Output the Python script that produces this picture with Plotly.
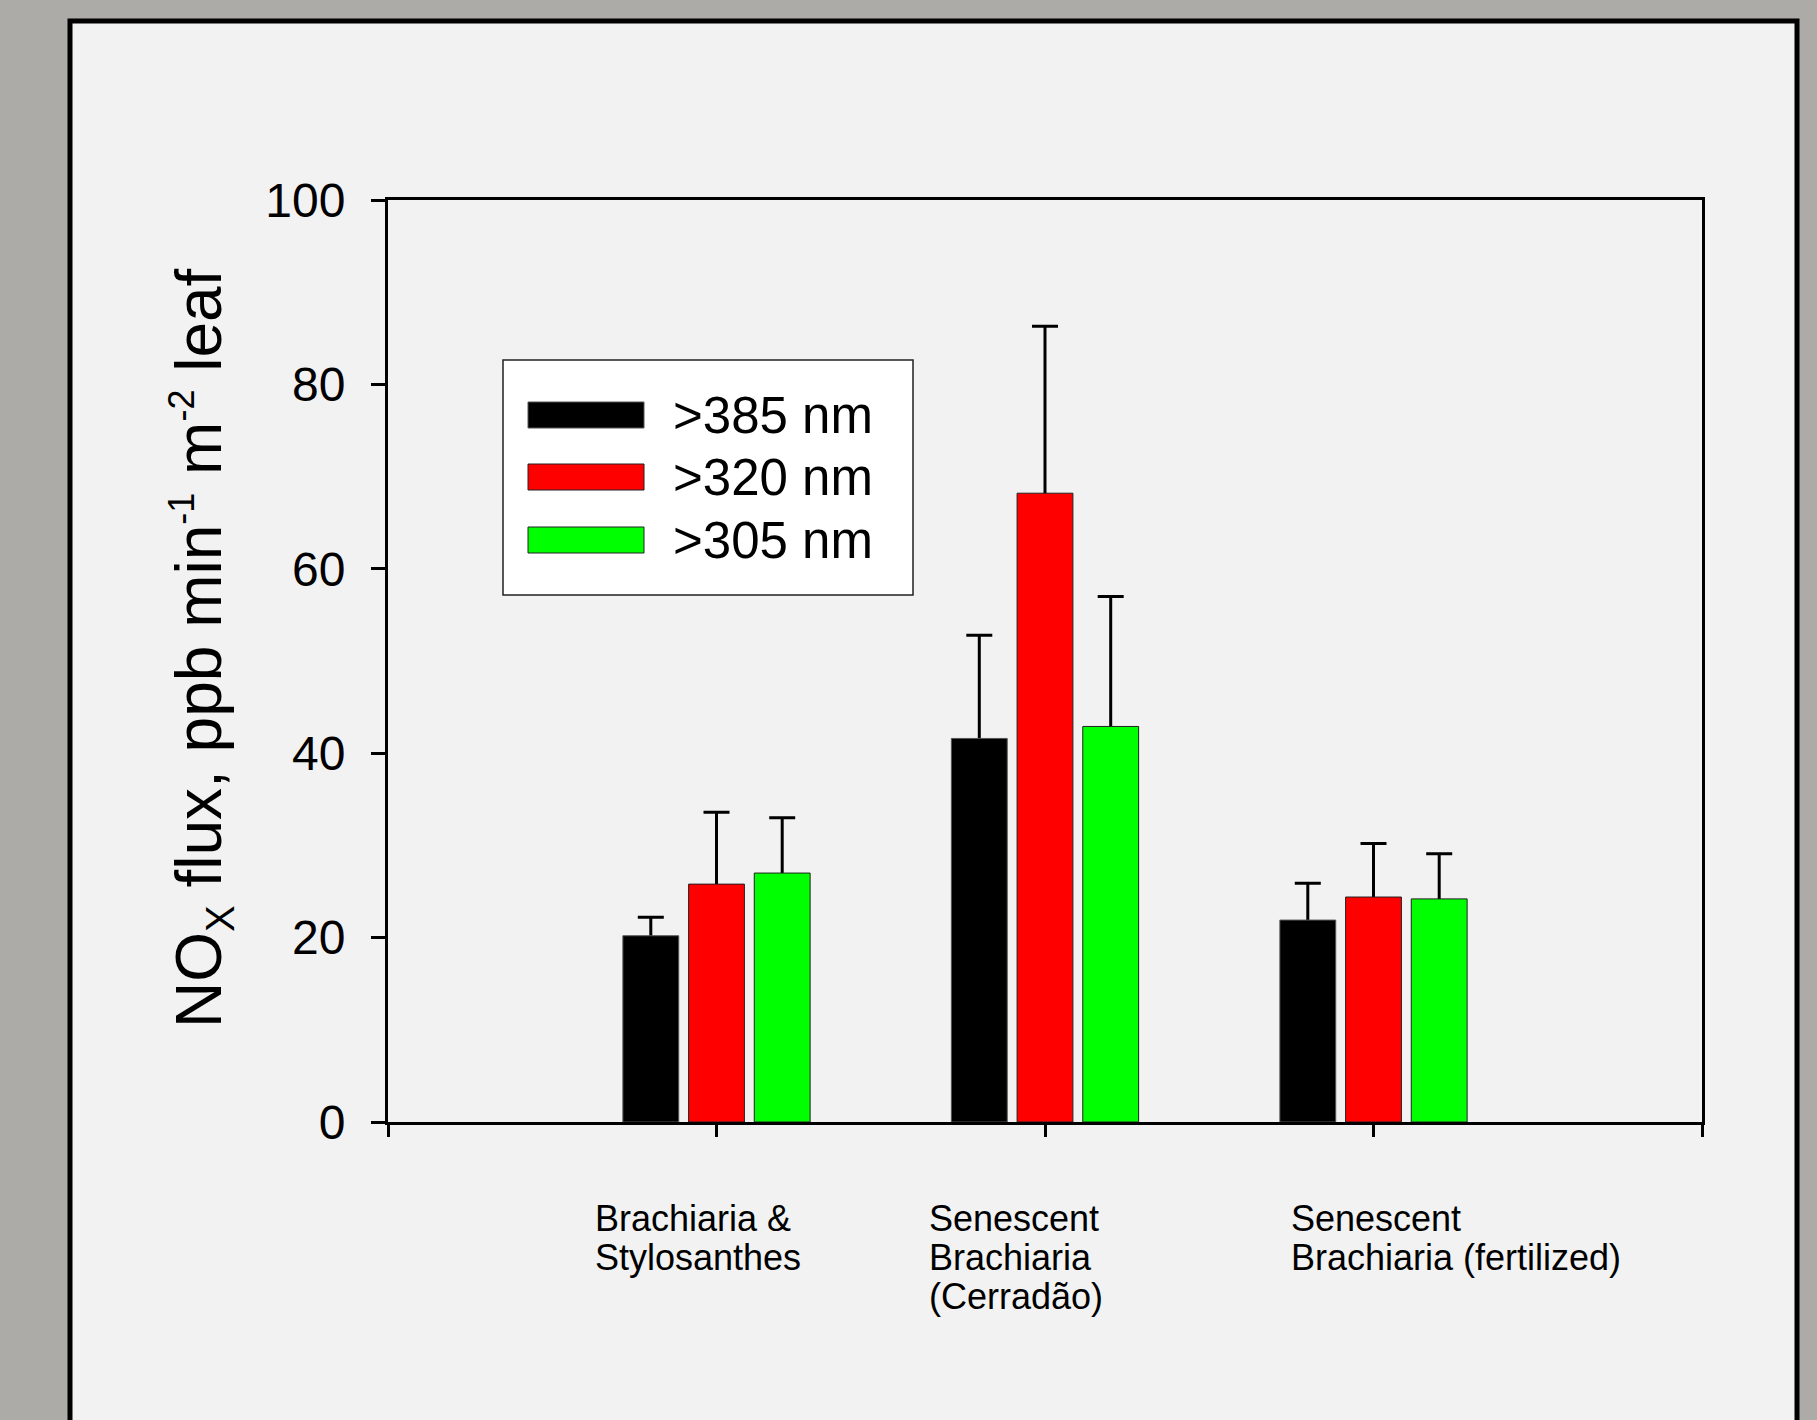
import plotly.graph_objects as go

# ---------------- data ----------------
category_labels = [
    "Brachiaria &\nStylosanthes",
    "Senescent\nBrachiaria\n(Cerradão)",
    "Senescent\nBrachiaria (fertilized)",
]
category_pos = [1, 2, 3]
series_names = [">385 nm", ">320 nm", ">305 nm"]
flux_385 = [20.2, 41.6, 21.9]
flux_320 = [25.8, 68.2, 24.4]
flux_305 = [27.0, 42.9, 24.2]
err_385 = [2.0, 11.2, 4.0]
err_320 = [7.8, 18.1, 5.8]
err_305 = [6.0, 14.1, 4.9]
y_tick_vals = [0, 20, 40, 60, 80, 100]
x_tick_vals = [0, 1, 2, 3, 4]
y_title = ("NO<sub><span style='font-size:40px'>X</span></sub> flux, ppb min"
           "<sup><span style='font-size:36px'>-1</span></sup> m"
           "<sup><span style='font-size:36px'>-2</span></sup> leaf")

# ---------------- style ----------------
W, H = 1817, 1420
PL, PR, PT, PB = 388, 1702, 200, 1122
FONT = "Liberation Sans, Arial, sans-serif"
colors = ["#000000", "#ff0000", "#00ff00"]
outlines = ["#555555", "#222222", "#222222"]
groups = ["g385", "g320", "g305"]


def px(x):
    return (x - PL) / (PR - PL)


def py(y):
    return (PB - y) / (PB - PT)


fig = go.Figure()
series = list(zip(series_names, [flux_385, flux_320, flux_305],
                  [err_385, err_320, err_305], colors, outlines, groups))

# error-bar carriers (drawn first so the bars hide the lower part of each whisker)
for name, vals, errs, col, oc, grp in series:
    fig.add_trace(go.Bar(
        x=category_pos, y=vals, name=name + " error", offsetgroup=grp,
        marker=dict(color="rgba(0,0,0,0)", line=dict(width=0)),
        error_y=dict(type="data", array=errs, arrayminus=vals,
                     symmetric=False, color="black", thickness=3, width=13),
        showlegend=False, hoverinfo="skip",
    ))

# visible bars
for name, vals, errs, col, oc, grp in series:
    fig.add_trace(go.Bar(
        x=category_pos, y=vals, name=name, offsetgroup=grp,
        marker=dict(color=col, line=dict(color=oc, width=1)),
        showlegend=False,
    ))

shapes = []
# outer frame / inner panel
shapes.append(dict(type="rect", xref="paper", yref="paper",
                   x0=px(70), x1=px(1797), y0=py(1460), y1=py(21),
                   fillcolor="#f1f2f1", line=dict(color="black", width=5), layer="below"))
# custom legend box
shapes.append(dict(type="rect", xref="paper", yref="paper",
                   x0=px(503), x1=px(913), y0=py(595), y1=py(360),
                   fillcolor="white", line=dict(color="#222222", width=1.5), layer="above"))
annotations = []
row_centers = [415, 477, 540]
for name, col, oc, yc in zip(series_names, colors, outlines, row_centers):
    shapes.append(dict(type="rect", xref="paper", yref="paper",
                       x0=px(528), x1=px(644), y0=py(yc + 13), y1=py(yc - 13),
                       fillcolor=col, line=dict(color=oc, width=1), layer="above"))
    annotations.append(dict(xref="paper", yref="paper", x=px(671), y=py(yc),
                            xanchor="left", yanchor="middle", text=name, showarrow=False,
                            font=dict(family=FONT, size=51, color="black")))

# category labels (left aligned, multi-line)
label_left = [593, 927, 1289]
for lab, lx in zip(category_labels, label_left):
    for i, line in enumerate(lab.split("\n")):
        annotations.append(dict(xref="paper", yref="paper", x=px(lx), y=py(1218 + 39 * i),
                                xanchor="left", yanchor="middle", text=line, showarrow=False,
                                font=dict(family=FONT, size=36, color="black")))

# y-axis title
annotations.append(dict(xref="paper", yref="paper", x=px(201), y=py(648),
                        xanchor="center", yanchor="middle", text=y_title, textangle=-90,
                        showarrow=False, font=dict(family=FONT, size=64, color="black")))

fig.update_layout(
    width=W, height=H,
    margin=dict(l=PL, r=W - PR, t=PT, b=H - PB, pad=0),
    paper_bgcolor="#adaba8",
    plot_bgcolor="white",
    barmode="group", bargap=0.4, bargroupgap=0.15,
    shapes=shapes, annotations=annotations,
    font=dict(family=FONT, color="black"),
    xaxis=dict(range=[0, 4], tickvals=x_tick_vals, showticklabels=False,
               ticks="outside", ticklen=12, tickwidth=3, tickcolor="black",
               showline=True, linewidth=3, linecolor="black", mirror=True,
               showgrid=False, zeroline=False),
    yaxis=dict(range=[0, 100], tickvals=y_tick_vals, ticks="outside", ticklen=14,
               tickwidth=3, tickcolor="black", showline=True, linewidth=3,
               linecolor="black", mirror=True, showgrid=False, zeroline=False,
               tickfont=dict(family=FONT, size=48, color="black"),
               ticklabelstandoff=16),
)

fig.write_html("out.html", config={"displayModeBar": False},
               post_script="document.body.style.margin='0';document.body.style.overflow='hidden';")
